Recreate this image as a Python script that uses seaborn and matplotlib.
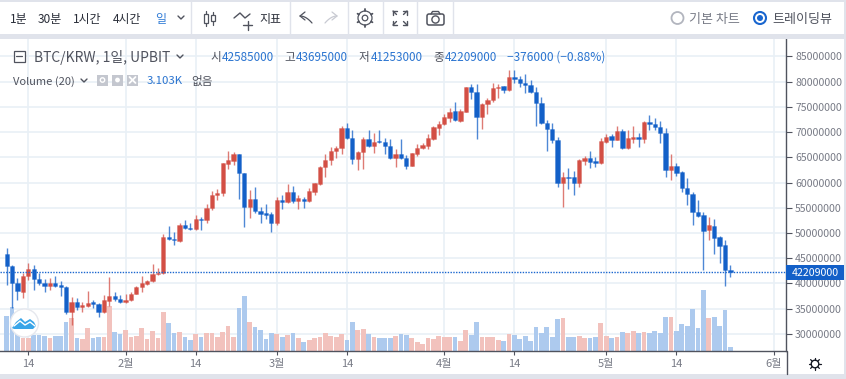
import numpy as np
import pandas as pd
import seaborn as sns
import matplotlib
matplotlib.use("Agg")
import matplotlib.pyplot as plt
from matplotlib.patches import Circle, FancyBboxPatch, Rectangle

# days counted from Jan 14, prices in million KRW, volume in K
first_day = -4
opens = [45.8,43.5,40.0,38.4,41.5,42.8,40.9,40.1,39.5,40.1,39.7,39.4,34.4,36.4,35.4,35.6,36.3,36.0,34.4,36.6,37.6,37.0,36.3,36.7,38.0,39.4,39.9,40.5,41.8,42.0,
         49.2,48.8,48.5,51.6,51.0,50.7,52.8,52.5,54.9,57.5,57.9,63.7,64.3,65.6,61.8,55.2,56.7,54.3,54.0,53.7,51.9,56.5,56.1,58.1,56.4,56.8,56.3,58.2,59.8,63.0,
         64.5,66.3,66.8,70.8,68.8,64.6,66.1,68.6,67.2,68.2,68.0,67.2,64.8,65.6,64.8,63.3,65.7,66.8,67.3,68.7,70.8,71.6,72.8,74.1,72.2,74.0,79.0,78.0,73.0,75.5,
         76.3,78.7,79.1,78.3,80.8,80.5,79.8,79.4,77.9,75.8,71.7,70.5,68.4,60.0,61.0,61.0,60.0,64.3,64.9,64.2,63.9,68.1,69.2,68.5,70.2,66.9,68.7,69.0,68.7,71.9,
         71.6,71.0,69.9,62.4,63.3,62.1,59.0,57.8,54.2,53.5,50.5,51.4,49.2,47.6,42.585]
highs = [47.0,43.7,41.0,42.1,44.0,43.7,42.0,40.8,41.0,41.5,40.4,39.5,37.4,37.1,36.4,38.5,36.7,36.2,37.7,41.2,38.4,37.7,38.0,38.4,39.5,41.5,40.7,43.8,43.0,49.8,
         51.4,50.1,51.9,52.5,51.9,53.5,53.1,55.7,58.3,58.7,63.9,66.2,66.0,65.7,61.8,58.5,59.1,55.2,55.7,54.2,57.1,57.5,59.7,59.4,57.5,57.1,58.9,60.0,63.3,65.7,
         67.0,67.2,71.2,71.7,70.4,66.2,69.0,70.4,69.9,70.3,68.8,68.6,66.6,68.6,65.5,65.9,67.6,67.8,69.7,71.2,72.2,73.5,74.8,75.9,74.6,79.0,79.6,79.6,75.7,76.7,
         79.8,79.6,79.2,82.3,82.3,81.1,81.5,80.3,78.9,77.0,72.4,71.7,69.1,62.0,62.8,62.2,64.6,65.2,66.2,65.1,68.8,69.6,69.7,71.2,70.5,70.3,71.2,69.9,72.1,73.4,
         72.7,72.1,70.8,65.6,63.9,62.3,60.8,58.1,56.5,54.2,53.1,52.8,49.4,48.7,43.695]
lows = [39.7,35.2,36.7,37.1,40.7,38.7,39.7,38.3,38.7,39.4,37.6,34.0,31.8,34.8,34.4,35.4,35.1,33.4,34.1,35.5,36.5,36.1,36.2,36.5,37.9,38.4,39.7,40.3,41.6,41.9,
        48.6,47.6,48.2,50.7,50.6,50.5,50.6,51.9,54.6,56.5,57.3,62.6,63.5,56.8,51.1,53.0,53.9,52.0,52.7,50.1,51.6,54.8,55.9,55.9,54.7,55.0,56.1,57.5,59.6,61.0,
        63.5,64.9,65.7,68.7,63.7,62.4,62.6,67.1,65.9,67.9,65.6,64.6,63.1,64.7,62.6,63.3,65.3,66.6,66.7,68.5,69.4,71.3,72.0,72.1,71.9,73.9,76.5,68.7,70.6,73.6,
        76.0,76.7,77.8,78.2,79.8,78.9,77.8,77.8,71.2,71.6,66.2,67.9,59.2,55.2,58.7,57.5,59.2,63.5,62.8,63.1,63.7,67.8,67.1,68.4,66.7,66.7,67.9,67.1,67.8,70.4,
        70.4,67.8,61.0,60.5,61.2,58.1,55.6,51.6,53.2,42.7,48.6,45.8,44.1,39.5,41.253]
closes = [43.5,40.0,38.6,41.5,42.8,40.9,40.0,39.5,40.1,39.6,39.4,34.4,36.4,35.4,35.7,36.2,36.0,34.4,36.7,37.6,37.0,36.3,36.8,38.0,39.4,40.0,40.5,41.8,42.1,49.3,
          48.8,48.6,51.6,50.9,50.7,52.8,52.6,55.0,57.6,58.0,63.8,64.4,65.6,61.8,55.2,56.7,54.3,53.8,53.6,51.9,56.5,56.1,58.1,56.4,56.9,56.3,58.3,59.9,63.1,64.5,
          66.3,66.8,70.8,68.8,64.6,66.1,68.6,67.2,68.1,68.0,67.2,64.8,65.6,64.8,63.3,65.8,66.8,67.4,68.8,70.9,71.6,72.9,74.0,72.3,74.2,79.0,77.9,73.0,75.5,76.3,
          78.8,78.9,78.3,80.8,80.5,79.8,79.4,77.9,75.8,71.7,70.5,68.4,60.0,61.0,60.8,60.0,64.4,64.9,64.1,63.9,68.2,69.1,68.5,70.2,66.9,68.8,69.0,68.7,72.0,71.6,
          71.0,69.8,62.4,63.3,61.9,58.9,57.7,54.1,53.4,50.4,51.5,49.1,47.5,42.6,42.209]
volumes = [25.2,31.4,15.1,9.1,9.1,11.5,11.5,10.8,9.1,10.8,10.8,20.6,23.5,9.6,8.4,16.3,9.1,10.3,10.3,32.4,13.7,12.2,15.1,10.3,10.8,16.3,8.4,14.4,9.1,27.8,
           19.9,12.7,13.7,9.8,7.9,12.2,9.8,12.7,12.7,9.8,13.7,18.0,9.8,31.0,39.6,20.9,17.3,15.1,8.4,12.7,12.2,10.3,11.8,12.7,9.1,6.5,7.9,9.1,10.3,12.7,
           10.8,9.8,12.2,7.9,20.6,14.9,15.6,12.2,9.8,9.1,9.1,9.1,10.8,12.2,11.5,9.4,6.5,5.0,9.4,8.6,11.0,10.3,9.8,10.3,7.2,15.1,11.5,20.6,9.8,10.3,
           10.3,7.9,7.2,12.2,11.5,8.4,10.8,7.2,17.5,13.0,17.5,9.8,22.8,24.0,10.3,9.8,10.8,9.1,9.1,10.3,20.2,10.8,9.1,10.3,13.7,13.0,14.4,13.0,13.7,13.0,
           14.4,13.0,24.5,24.5,14.4,19.4,18.0,30.5,16.8,43.9,23.5,24.5,18.0,29.5,3.103]
price_ticks = [30, 35, 40, 45, 50, 55, 60, 65, 70, 75, 80, 85]
date_ticks = [0, 18, 31, 46, 59, 77, 90, 107, 120, 138]
date_labels = ["14", "2월", "14", "3월", "14", "4월", "14", "5월", "14", "6월"]
last_price = 42.209

RED = "#D34F45"
BLUE = "#1360C8"
RED_V = "#F2C2BD"
BLUE_V = "#ADCAEE"
TXT = "#50535E"
LABEL = "#787B86"
CHROME = "#E0E3EB"
GRID = "#E9F0F6"

df = pd.DataFrame({"open": opens, "high": highs, "low": lows, "close": closes, "volume": volumes})
df["day"] = np.arange(first_day, first_day + len(df))
df["height"] = (df["close"] - df["open"]).abs()
df["bottom"] = df[["open", "close"]].min(axis=1)
df["up"] = df["close"] >= df["open"]

sns.set_theme(style="white")
plt.rcParams["font.family"] = ["Noto Sans CJK KR", "DejaVu Sans"]

W, H = 846, 379
fig = plt.figure(figsize=(W / 100, H / 100), dpi=100, facecolor="white")
pos = [0, (H - 351) / H, 786 / W, (351 - 39) / H]
ax_vol = fig.add_axes(pos)
ax = fig.add_axes(pos)
ax.patch.set_visible(False)

# volume
for up, col in [(True, RED_V), (False, BLUE_V)]:
    sub = df[df["up"] == up]
    sns.barplot(data=sub, x="day", y="volume", native_scale=True, color=col, saturation=1,
                width=0.88, errorbar=None, linewidth=0, ax=ax_vol)
ax_vol.set_xlim(-5.24, 140.3)
ax_vol.set_ylim(0, 224.6)
ax_vol.set_xticks(date_ticks)
ax_vol.set_yticks([])
ax_vol.set_xlabel("")
ax_vol.set_ylabel("")
ax_vol.tick_params(bottom=False, labelbottom=False)
for s in ax_vol.spines.values():
    s.set_visible(False)
ax_vol.grid(False)
ax_vol.set_axisbelow(True)
for d in date_ticks:
    ax_vol.axvline(d, color=GRID, lw=1.2, zorder=0)

# candles
for up, col in [(True, RED), (False, BLUE)]:
    sub = df[df["up"] == up]
    ax.vlines(sub["day"], sub["low"], sub["high"], color=col, lw=1.0, alpha=0.75, zorder=3)
    sns.barplot(data=sub, x="day", y="height", bottom=sub["bottom"].values, native_scale=True, color=col,
                saturation=1, width=0.8, errorbar=None, linewidth=0.7,
                edgecolor=matplotlib.colors.to_rgba(col, 0.3), ax=ax, zorder=4)

ax.set_xlim(-5.24, 140.3)
ax.set_ylim(26.63, 88.42)
ax.set_xlabel("")
ax.set_ylabel("")
ax.set_yticks(price_ticks)
ax.set_yticklabels([str(int(p * 1000000)) for p in price_ticks])
ax.set_xticks(date_ticks)
ax.set_xticklabels(date_labels)
ax.yaxis.tick_right()
ax.tick_params(axis="y", length=4, width=0.8, color=TXT, labelcolor=LABEL, labelsize=7.6, pad=2.5, right=True)
ax.tick_params(axis="x", length=3, width=0.8, color=TXT, labelcolor=LABEL, labelsize=8, pad=3, bottom=True)
ax.grid(False)
for p in price_ticks:
    ax_vol.plot([0, 1], [(p - 26.63) / (88.42 - 26.63)] * 2, transform=ax_vol.transAxes, color=GRID, lw=1.2, zorder=0)
for name, s in ax.spines.items():
    s.set_visible(name in ("right", "bottom"))
    s.set_color(TXT)
    s.set_linewidth(1)
ax.axhline(last_price, color="#1A66CF", lw=1, ls=(0, (1, 1)), zorder=5)

# overlay in pixel coords for the tradingview chrome
ui = fig.add_axes([0, 0, 1, 1], zorder=10)
ui.set_xlim(0, W)
ui.set_ylim(H, 0)
ui.axis("off")


def label(x, y, s, size=8.4, color=TXT, ha="left"):
    ui.text(x, y, s, fontsize=size, color=color, ha=ha, va="center_baseline")


def line(xs, ys, color=TXT, lw=1.0):
    ui.plot(xs, ys, color=color, lw=lw, solid_capstyle="round")


ui.add_patch(Rectangle((0, 0), W, 34, fc="white", ec="none"))
ui.add_patch(Rectangle((0, 0), W, 1.5, fc=CHROME, ec="none"))
ui.add_patch(Rectangle((0, 34), W, 4.5, fc=CHROME, ec="none"))
ui.add_patch(Rectangle((0, 374), W, 5, fc=CHROME, ec="none"))
ui.add_patch(Rectangle((844, 0), 2, H, fc=CHROME, ec="none"))
line([786.5, 786.5], [351, 374], TXT, 1)
for x in [190.5, 290, 347.5, 382.5, 417, 452.5]:
    line([x, x], [1, 34], CHROME, 1)

# toolbar
for x, s in [(10, "1분"), (38, "30분"), (73, "1시간"), (113, "4시간")]:
    label(x, 18, s, 8.6, "#2A2E39")
label(155, 18, "일", 8.6, "#2F7BD6")
line([178, 181, 184], [16, 19, 16], TXT, 1)
# candle icon
line([206, 206], [11, 26], TXT, 0.9)
ui.add_patch(Rectangle((204, 14), 4, 9, fc="white", ec=TXT, lw=0.9, zorder=3))
line([213, 213], [12, 25], TXT, 0.9)
ui.add_patch(Rectangle((211, 15), 3.6, 6, fc="white", ec=TXT, lw=0.9, zorder=3))
line([234, 240, 245, 250], [18, 13, 18, 14], TXT, 1)
line([243, 252], [25, 25], TXT, 1)
line([247.5, 247.5], [20.5, 29.5], TXT, 1)
label(259, 18, "지표", 8.6, "#2A2E39")
# undo and redo
line([305, 300, 305], [12, 16, 20], TXT, 0.9)
ui.plot(np.linspace(300, 312, 12), 16 + 7 * np.linspace(0, 1, 12) ** 2, color=TXT, lw=0.9)
line([332, 337, 332], [12, 16, 20], "#C8CAD2", 0.9)
ui.plot(np.linspace(337, 325, 12), 16 + 7 * np.linspace(0, 1, 12) ** 2, color="#C8CAD2", lw=0.9)
# gear
ui.add_patch(Circle((365, 18), 7, fc="none", ec=TXT, lw=0.9))
ui.add_patch(Circle((365, 18), 2.8, fc="none", ec=TXT, lw=0.9))
for a in np.arange(30, 390, 60):
    c, s_ = np.cos(np.radians(a)), np.sin(np.radians(a))
    ui.plot([365 + 7 * c, 365 + 8.6 * c], [18 + 7 * s_, 18 + 8.6 * s_], color=TXT, lw=1.3)
# fullscreen
for sx, sy in [(-1, -1), (1, -1), (-1, 1), (1, 1)]:
    cx, cy = 400 + sx * 7, 18 + sy * 7
    line([cx, cx - sx * 4], [cy, cy], TXT, 1)
    line([cx, cx], [cy, cy - sy * 4], TXT, 1)
    line([cx, cx - sx * 3.5], [cy, cy - sy * 3.5], TXT, 1)
# camera
ui.add_patch(FancyBboxPatch((427, 14), 17, 11, boxstyle="round,pad=0,rounding_size=2", fc="none", ec=TXT, lw=1.1))
ui.add_patch(Circle((435.5, 19.5), 3.6, fc="none", ec=TXT, lw=1))
line([431, 432.5, 438.5, 440], [14, 11.5, 11.5, 14], TXT, 1)
# radios
ui.add_patch(Circle((677.5, 18), 6, fc="white", ec="#B2B5BE", lw=1.3))
label(689, 18, "기본 차트", 9.4, LABEL)
ui.add_patch(Circle((760, 18), 6, fc="white", ec="#1A66CF", lw=1.5))
ui.add_patch(Circle((760, 18), 3, fc="#1A66CF", ec="none"))
label(772, 18, "트레이딩뷰", 9.4, TXT)

# legend rows
ui.add_patch(Rectangle((13.5, 50.5), 11, 11, fc="white", ec=TXT, lw=0.9))
line([16, 22], [56, 56], TXT, 0.9)
label(34, 56, "BTC/KRW, 1일, UPBIT", 10)
line([177, 180, 183], [55, 58, 55], TXT, 1)
row_blue = "#2A74D0"
for x0, x1, k, v in [(210, 222, "시", "42585000"), (284, 296, "고", "43695000"),
                     (359, 371, "저", "41253000"), (433, 445, "종", "42209000")]:
    label(x0, 56, k, 8.4)
    label(x1, 56, v, 8.4, row_blue)
label(507, 56, "\u2212376000 (\u22120.88%)", 8.6, row_blue)
label(13, 80, "Volume (20)", 8)
line([81, 84, 87], [79, 82, 79], TXT, 1)
for x in [97, 112, 127]:
    ui.add_patch(Rectangle((x, 74.5), 11, 11, fc="#C4C7CF", ec="none"))
ui.add_patch(Circle((102.5, 80), 2.2, fc="none", ec="white", lw=1))
ui.add_patch(Circle((117.5, 80), 2.4, fc="white", ec="none"))
line([129.5, 135.5], [77, 83], "white", 1.3)
line([129.5, 135.5], [83, 77], "white", 1.3)
label(147, 80, "3.103K", 8.2, row_blue)
label(191, 80, "없음", 8.4)

# last price tag
ui.add_patch(Rectangle((786, 265), 58, 15, fc="#1360C8", ec="none"))
label(815, 272.5, "42209000", 7.6, "white", ha="center")

# logo
ui.add_patch(Circle((24.5, 323), 14, fc="white", ec="#E6E8EE", lw=1))
ui.fill([12, 16, 21, 25, 30, 34, 36, 33, 14], [328, 322, 318, 322, 319, 322, 326, 329, 329], color="#39A5E8", lw=0)
line([14, 20, 25, 30, 35], [326, 321, 325, 322, 326], "white", 1)

# sun icon
ui.add_patch(Circle((815, 364), 3.8, fc="none", ec="#131722", lw=1))
for a in np.arange(0, 360, 45):
    c, s_ = np.cos(np.radians(a)), np.sin(np.radians(a))
    ui.plot([815 + 4.2 * c, 815 + 6.2 * c], [364 + 4.2 * s_, 364 + 6.2 * s_], color="#131722", lw=0.9)

fig.savefig("out.png", dpi=100, facecolor="white")
